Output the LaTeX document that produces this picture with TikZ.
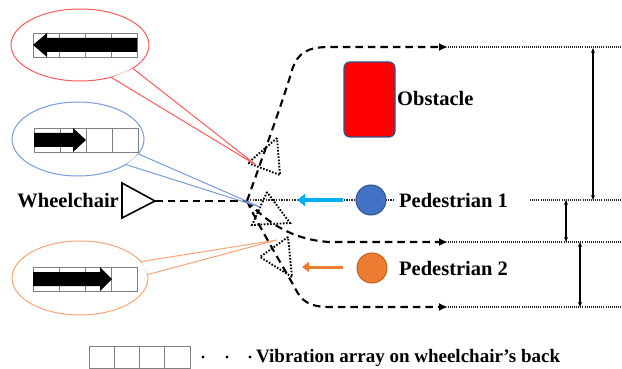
\documentclass[tikz,border=0pt]{standalone}
\usepackage{fontspec}
\setmainfont{Liberation Serif}
\usetikzlibrary{arrows.meta,shapes.geometric,calc}
\definecolor{redbub}{RGB}{255,90,90}
\definecolor{bluebub}{RGB}{120,155,220}
\definecolor{orangebub}{RGB}{245,165,115}
\definecolor{pedblue}{RGB}{68,114,196}
\definecolor{pedblueline}{RGB}{47,82,143}
\definecolor{pedorange}{RGB}{237,125,49}
\definecolor{pedorangeline}{RGB}{190,95,30}
\definecolor{arrblue}{RGB}{0,176,240}
\definecolor{obsline}{RGB}{47,82,143}
\begin{document}
\begin{tikzpicture}[x=1pt,y=-1pt,
  lbl/.style={font=\fontsize{20.5}{24}\selectfont\bfseries, inner sep=0pt},
  dashline/.style={line width=2.1pt, dash pattern=on 7.5pt off 5pt},
  route/.style={dashline, -{Latex[length=9pt,width=8pt]}},
  track/.style={line width=1.1pt, dash pattern=on 1pt off 1.1pt, black!85},
  ptrack/.style={line width=1.7pt, dash pattern=on 1.3pt off 1.3pt, black!85},
  ghost/.style={line width=1.9pt, dash pattern=on 1.6pt off 1.6pt},
  cellbox/.style={draw=gray, line width=0.8pt},
  bubble/.style={ellipse, draw, line width=1pt, fill=white, inner sep=0pt},
  gap/.style={{Stealth[length=5pt,width=4pt]}-{Stealth[length=5pt,width=4pt]}, line width=1.2pt}
]
\useasboundingbox (0,0) rectangle (622,369);

% wheelchair
\draw[line width=1.6pt, line join=miter] (122,183) -- (122,218) -- (155,201) -- cycle;
\coordinate (wctip) at (155,201);
\node[lbl, anchor=east] (wcl) at (119,201) {Wheelchair};

% junction and route ends
\coordinate (J) at (247,201);
\coordinate (e1) at (448,47);
\coordinate (e2) at (448,242);
\coordinate (e3) at (448,307);
\coordinate (r1) at (622,47);
\coordinate (r2) at (622,242);
\coordinate (r3) at (622,307);
\coordinate (q1) at (530,200);
\coordinate (r0) at (622,200);

% pedestrian 1 sight line
\draw[ptrack] (250,200) -- (395,200);

% routes
\draw[dashline] (wctip) -- (J);
\draw[route] (J) .. controls (265,150) and (285,95) .. (292,70) .. controls (298,52) and (308,47) .. (330,47) -- (e1);
\draw[route] (J) .. controls (265,220) and (290,240) .. (330,242) -- (e2);
\draw[route] (J) .. controls (258,225) and (285,270) .. (295,288) .. controls (302,302) and (310,307) .. (330,307) -- (e3);

% ghost wheelchair positions
\draw[ghost] (277,138) -- (248,163) -- (280,175) -- cycle;
\draw[ghost] (267,192) -- (252,225) -- (290,223) -- cycle;
\draw[ghost] (288,237) -- (260,257) -- (292,277) -- cycle;

% right dotted lines
\draw[track] (e1) -- (r1);
\draw[track] (e2) -- (r2);
\draw[track] (e3) -- (r3);
\draw[track] (q1) -- (r0);

% gaps
\draw[gap] (593,48) -- (593,200);
\draw[gap] (566,200) -- (566,242);
\draw[gap] (580,242) -- (580,307);

% obstacle
\node[draw=obsline, fill=red, rounded corners=6pt, minimum width=51pt, minimum height=75pt, line width=1.2pt] (obs) at (369.5,99.5) {};
\node[lbl, anchor=west] (obsl) at (397,98) {Obstacle};

% pedestrians
\draw[arrblue, line width=4.5pt, -{Triangle[length=8pt,width=12pt]}] (343,200) -- (297,200);
\node[circle, fill=pedblue, draw=pedblueline, line width=1pt, minimum size=30pt, inner sep=0pt] (p1) at (371,200) {};
\node[lbl, anchor=west] (p1l) at (399,200) {Pedestrian 1};
\draw[pedorange, line width=3pt, -{Triangle[length=7pt,width=10pt]}] (343,267) -- (302,267);
\node[circle, fill=pedorange, draw=pedorangeline, line width=1pt, minimum size=30pt, inner sep=0pt] (p2) at (372,268) {};
\node[lbl, anchor=west] (p2l) at (399,268) {Pedestrian 2};

% red bubble
\node[bubble, draw=redbub, minimum width=138pt, minimum height=72pt] (rb) at (80,45) {};
\coordinate (rt) at (256,165);
\fill[white] (rb.-24) -- ($(rb.-24)!0.2!(rt)$) -- ($(rb.-46)!0.2!(rt)$) -- (rb.-46) -- cycle;
\draw[redbub, line width=1pt, line join=miter] (rb.-24) -- (rt) -- (rb.-46);
\foreach \i in {0,...,3} \draw[cellbox] (33+26*\i,33) rectangle ++(26,24);
\fill (33,45) -- (47,33) -- (47,38) -- (137,38) -- (137,52) -- (47,52) -- (47,57) -- cycle;

% blue bubble
\node[bubble, draw=bluebub, minimum width=132pt, minimum height=74pt] (bb) at (78,139) {};
\coordinate (bt) at (260,207);
\fill[white] (bb.-14) -- ($(bb.-14)!0.2!(bt)$) -- ($(bb.-28)!0.2!(bt)$) -- (bb.-28) -- cycle;
\draw[bluebub, line width=1pt, line join=miter] (bb.-14) -- (bt) -- (bb.-28);
\foreach \i in {0,...,3} \draw[cellbox] (34+26*\i,128) rectangle ++(26,24);
\fill (34,133) -- (73,133) -- (73,128) -- (86,140) -- (73,152) -- (73,147) -- (34,147) -- cycle;

% orange bubble
\node[bubble, draw=orangebub, minimum width=136pt, minimum height=74pt] (ob) at (80,278) {};
\coordinate (ot) at (277,240);
\fill[white] (ob.15) -- ($(ob.15)!0.2!(ot)$) -- ($(ob.3)!0.2!(ot)$) -- (ob.3) -- cycle;
\draw[orangebub, line width=1pt, line join=miter] (ob.15) -- (ot) -- (ob.3);
\foreach \i in {0,...,3} \draw[cellbox] (33+26*\i,267) rectangle ++(26,24);
\fill (33,272) -- (100,272) -- (100,267) -- (112,279) -- (100,291) -- (100,286) -- (33,286) -- cycle;

% legend
\foreach \i in {0,...,3} \draw[cellbox] (89+25.25*\i,346) rectangle ++(25.25,22);
\foreach \x in {203,227,250} \fill (\x,357) circle (1.7);
\node[font=\fontsize{19}{22}\selectfont\bfseries, inner sep=0pt, anchor=base west] (leg) at (256,362) {Vibration array on wheelchair’s back};
\end{tikzpicture}
\end{document}
